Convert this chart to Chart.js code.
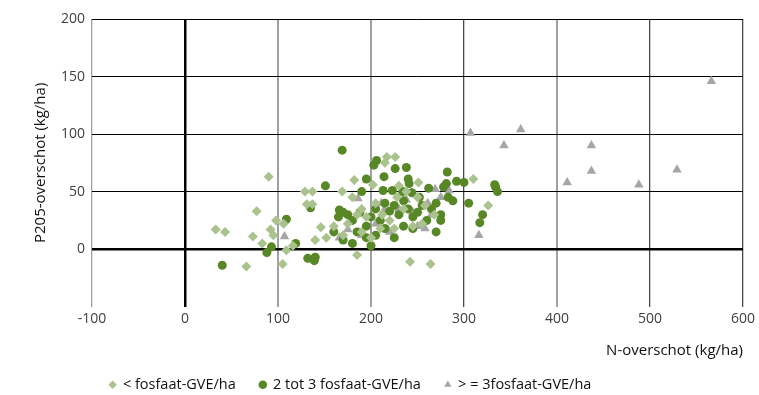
<!DOCTYPE html>
<html>
<head>
<meta charset="utf-8">
<script src="https://cdn.jsdelivr.net/npm/chart.js@4.4.0/dist/chart.umd.min.js"></script>
<style>
  html, body { margin: 0; padding: 0; background: #fff; }
  #wrap { width: 759px; height: 395px; }
</style>
</head>
<body>
<div id="wrap"><canvas id="myChart" width="759" height="395"></canvas></div>
<script>
const seriesLabels = ['< fosfaat-GVE/ha', '2 tot 3 fosfaat-GVE/ha', '> = 3fosfaat-GVE/ha'];

// N-overschot, P205-overschot (kg/ha)
const lowN = [33, 43, 66, 73, 77, 83, 90, 92, 95, 98, 106, 105, 109, 116, 129, 137, 131, 137, 140, 146, 152, 169, 182, 202, 217, 226, 215, 230, 251, 310, 326, 175, 185, 190, 195, 205, 212, 220, 228, 235, 242, 245, 255, 264, 268, 180, 160, 200, 210, 225, 170, 190, 238, 250, 258, 185];
const lowP = [17, 15, -15, 11, 33, 5, 63, 17, 12, 25, 22, -13, -1, 3, 50, 50, 39, 39, 8, 19, 10, 50, 60, 56, 80, 80, 75, 55, 58, 61, 38, 22, -5, 15, 28, 40, 30, 25, 45, 35, -11, 20, 22, -13, 30, 45, 20, 10, 18, 18, 12, 35, 50, 45, 38, 30];

const midN = [40, 88, 93, 109, 119, 135, 151, 169, 166, 170, 206, 203, 226, 238, 214, 240, 241, 195, 282, 292, 281, 278, 333, 334, 336, 288, 305, 262, 190, 213, 223, 234, 244, 252, 132, 139, 140, 175, 180, 188, 195, 200, 205, 210, 215, 220, 225, 230, 235, 240, 245, 250, 255, 260, 265, 270, 275, 185, 195, 205, 215, 225, 235, 245, 180, 200, 170, 160, 270, 275, 317, 320, 300, 283, 165];
const midP = [-14, -3, 2, 26, 5, 36, 55, 86, 34, 32, 77, 73, 70, 71, 63, 61, 57, 61, 67, 59, 57, 54, 56, 54, 50, 42, 40, 53, 50, 51, 51, 50, 49, 45, -8, -10, -7, 30, 25, 32, 20, 28, 35, 25, 40, 33, 38, 30, 42, 35, 28, 32, 38, 25, 35, 40, 30, 15, 10, 12, 18, 10, 20, 18, 5, 3, 8, 15, 15, 25, 23, 30, 58, 45, 28];

const highN = [107, 166, 175, 186, 211, 214, 238, 261, 265, 269, 284, 307, 343, 361, 411, 437, 437, 488, 529, 566, 316, 250, 230, 205, 190, 220, 258, 275, 245];
const highP = [11, 10, 17, 44, 40, 34, 43, 40, 30, 52, 51, 101, 90, 104, 58, 90, 68, 56, 69, 146, 12, 20, 35, 22, 12, 15, 18, 45, 32];

const xTicks = [-100, 0, 100, 200, 300, 400, 500, 600];
const yTicks = [-50, 0, 50, 100, 150, 200];

const toPoints = (xs, ys) => xs.map((x, i) => ({ x: x, y: ys[i] }));

const fontFam = "'Open Sans', sans-serif";

const xGridColor = (v) => {
  if (v === 0) return '#000';
  if (v === -100 || v === 100 || v === 200 || v === 400) return '#a0a0a0';
  return '#4a4a4a';
};
const xGridWidth = (v) => {
  if (v === 0) return 2.5;
  if (v === 100 || v === 200 || v === 400) return 2;
  return 1.3;
};

// legend: shorter box, moved up and left like the original
const legendTweak = {
  id: 'legendTweak',
  beforeInit(chart) {
    const lg = chart.legend;
    const origFit = lg.fit;
    lg.fit = function () {
      origFit.call(this);
      this.height -= 13;
    };
  },
  afterLayout(chart) {
    const lg = chart.legend;
    lg.right -= 84;
    lg.top -= 6;
    lg.bottom -= 6;
  }
};

const datas = {
  datasets: [
    {
      label: seriesLabels[0],
      data: toPoints(lowN, lowP),
      pointStyle: 'rectRot',
      pointRadius: 5,
      backgroundColor: 'rgb(170, 194, 142)',
      borderColor: 'rgb(170, 194, 142)',
      borderWidth: 0
    },
    {
      label: seriesLabels[1],
      data: toPoints(midN, midP),
      pointStyle: 'circle',
      pointRadius: 4.5,
      backgroundColor: 'rgb(88, 135, 38)',
      borderColor: 'rgb(88, 135, 38)',
      borderWidth: 0
    },
    {
      label: seriesLabels[2],
      data: toPoints(highN, highP),
      pointStyle: 'triangle',
      pointRadius: 5.5,
      backgroundColor: 'rgb(166, 166, 166)',
      borderColor: 'rgb(166, 166, 166)',
      borderWidth: 0
    }
  ]
};

const config = {
  type: 'scatter',
  data: datas,
  options: {
    responsive: false,
    animation: false,
    layout: { padding: { left: 28, right: 2, top: 19, bottom: 0 } },
    scales: {
      x: {
        type: 'linear',
        min: -100,
        max: 600,
        afterBuildTicks: (axis) => { axis.ticks = xTicks.map(v => ({ value: v })); },
        border: { display: false },
        grid: {
          color: (c) => xGridColor(c.tick.value),
          lineWidth: (c) => xGridWidth(c.tick.value),
          drawTicks: false
        },
        ticks: {
          color: '#404040',
          font: { family: fontFam, size: 14 },
          padding: 4
        },
        title: {
          display: true,
          text: 'N-overschot (kg/ha)',
          align: 'end',
          color: '#111',
          font: { family: fontFam, size: 15 },
          padding: { top: 10, bottom: 0 }
        }
      },
      y: {
        type: 'linear',
        min: -50,
        max: 200,
        afterBuildTicks: (axis) => { axis.ticks = yTicks.map(v => ({ value: v })); },
        border: { display: false },
        grid: {
          color: (c) => c.tick.value === -50 ? 'rgba(0,0,0,0)' : '#000',
          lineWidth: (c) => c.tick.value === 0 ? 2.5 : 1,
          drawTicks: false
        },
        ticks: {
          color: '#404040',
          font: { family: fontFam, size: 14 },
          padding: 7,
          callback: (v) => v === -50 ? '' : v
        },
        title: {
          display: true,
          text: 'P205-overschot (kg/ha)',
          color: '#111',
          font: { family: fontFam, size: 15 },
          padding: { bottom: 4 }
        }
      }
    },
    plugins: {
      legend: {
        position: 'bottom',
        labels: {
          usePointStyle: true,
          boxWidth: 6,
          boxHeight: 6,
          padding: 24,
          color: '#111',
          font: { family: fontFam, size: 14.5 }
        }
      },
      tooltip: { enabled: false }
    }
  },
  plugins: [legendTweak]
};

const ctx = document.getElementById('myChart');

new Chart(ctx, config);
</script>
</body>
</html>
